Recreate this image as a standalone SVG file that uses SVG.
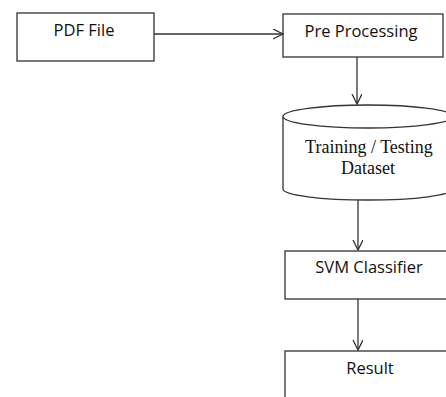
<svg xmlns="http://www.w3.org/2000/svg" width="446" height="397" viewBox="0 0 446 397">
<defs>
<style>
.box{fill:#fff;stroke:#333;stroke-width:1.3}
.lbl{font-family:"Open Sans","Liberation Sans",sans-serif;font-size:16.5px;fill:#111;text-anchor:middle}
.ser{font-family:"Liberation Serif",serif;font-size:18px;fill:#111;text-anchor:middle}
.edge{stroke:#333;stroke-width:1.3;fill:none;marker-end:url(#arr)}
</style>
<marker id="arr" markerWidth="12" markerHeight="12" refX="10" refY="5" orient="auto" markerUnits="userSpaceOnUse">
<path d="M0,0 L10,5 L0,10" fill="none" stroke="#333" stroke-width="1.3"/>
</marker>
</defs>
<rect width="446" height="397" fill="#fff"/>
<g id="pdf"><rect class="box" x="17" y="13" width="137" height="48"/><text class="lbl" x="84" y="36">PDF File</text></g>
<g id="pre"><rect class="box" x="283" y="14" width="160" height="43"/><text class="lbl" x="361" y="37">Pre Processing</text></g>
<g id="dataset">
<path class="box" d="M283,116.5 L283,189 A85,11 0 0 0 453,189 L453,116.5"/>
<ellipse class="box" cx="368" cy="116.5" rx="85" ry="11.5"/>
<text class="ser" x="369" y="153">Training / Testing</text>
<text class="ser" x="368" y="174">Dataset</text>
</g>
<g id="svm"><rect class="box" x="285" y="251" width="170" height="48"/><text class="lbl" x="369" y="273">SVM Classifier</text></g>
<g id="result"><rect class="box" x="285" y="351" width="170" height="60"/><text class="lbl" x="370" y="374">Result</text></g>
<g id="connectors">
<line class="edge" x1="154" y1="34" x2="283" y2="34"/>
<line class="edge" x1="357" y1="57" x2="357" y2="104"/>
<line class="edge" x1="358" y1="200" x2="358" y2="250"/>
<line class="edge" x1="358" y1="299" x2="358" y2="350"/>
</g>
</svg>
